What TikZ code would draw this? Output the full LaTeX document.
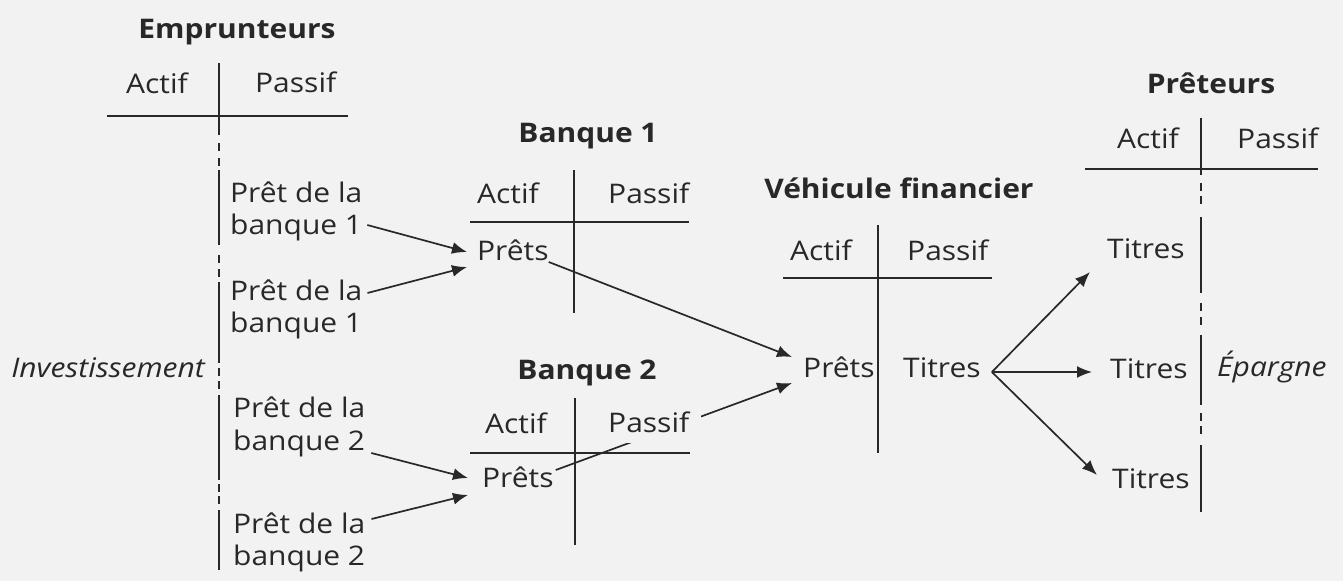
\documentclass[tikz,border=0pt]{standalone}
\usepackage{fontspec}
\setmainfont{Open Sans}[FakeStretch=1.11]
\usetikzlibrary{arrows.meta,calc,backgrounds}
\definecolor{bg}{RGB}{242,242,242}
\definecolor{ink}{RGB}{40,40,40}
\tikzset{
  txt/.style={font=\fontsize{27}{32}\selectfont, text=ink, inner sep=0pt, anchor=base west},
  txtit/.style={txt, font=\fontsize{27}{32}\selectfont\itshape},
  ttl/.style={txt, font=\fontsize{27}{32}\selectfont\bfseries, anchor=base},
  ln/.style={draw=ink, line width=1.9pt},
  dotln/.style={draw=ink, line width=2.2pt},
  arr/.style={draw=ink, line width=1.7pt, -{Latex[length=15pt,width=12pt]}},
}
\newcommand{\dotseg}[2]{\draw[dotln] (#1,#2-4) -- (#1,#2+4);}
\begin{document}
\begin{tikzpicture}[x=1pt,y=-1pt]
\begin{scope}[on background layer]
\fill[bg] (0,0) rectangle (1343,581);
\end{scope}
\useasboundingbox (0,0) rectangle (1343,581);

% ---------- Emprunteurs ----------
\node[ttl] (temp) at (237,38) {Emprunteurs};
\node[txt] (eact) at (126,93) {Actif};
\node[txt] (epas) at (255,92) {Passif};
\draw[ln] (107,116) -- (348,116);
\draw[ln] (219,63) -- (219,135);
\dotseg{219}{147}\dotseg{219}{162}
\draw[ln] (219,170) -- (219,245);
\dotseg{219}{259}\dotseg{219}{273}
\draw[ln] (219,282) -- (219,363);
\dotseg{219}{372}\dotseg{219}{385}
\draw[ln] (219,395) -- (219,480);
\dotseg{219}{488}\dotseg{219}{500}
\draw[ln] (219,510) -- (219,570);
\node[txt] (e1a) at (230,202) {Prêt de la};
\node[txt] (e1b) at (230,234) {banque 1};
\node[txt] (e2a) at (230,300) {Prêt de la};
\node[txt] (e2b) at (230,332) {banque 1};
\node[txt] (e3a) at (233,417) {Prêt de la};
\node[txt] (e3b) at (233,450) {banque 2};
\node[txt] (e4a) at (233,533) {Prêt de la};
\node[txt] (e4b) at (233,565) {banque 2};
\node[txtit, anchor=base east] (inv) at (205,377) {Investissement};

% ---------- Banque 1 ----------
\node[ttl] (tb1) at (588,142) {Banque 1};
\node[txt] (b1act) at (477,203) {Actif};
\node[txt] (b1pas) at (608,203) {Passif};
\draw[ln] (574,170) -- (574,313);
\draw[ln] (470,222) -- (689,222);
\node[txt] (b1p) at (477,260) {Prêts};

% ---------- Banque 2 ----------
\node[ttl] (tb2) at (587,379) {Banque 2};
\node[txt] (b2act) at (485,433) {Actif};
\node[txt, fill=bg, inner xsep=12pt, inner ysep=11pt] (b2pas) at (596,432) {Passif};
\draw[ln] (575,398) -- (575,545);
\draw[ln] (470,453) -- (690,453);
\node[txt] (b2p) at (482,487) {Prêts};

% ---------- Vehicule financier ----------
\node[ttl] (tvf) at (899,198) {Véhicule financier};
\node[txt] (vact) at (790,260) {Actif};
\node[txt] (vpas) at (907,260) {Passif};
\draw[ln] (878,225) -- (878,453);
\draw[ln] (783,278) -- (992,278);
\node[txt] (vp) at (803,377) {Prêts};
\node[txt] (vt) at (903,377) {Titres};

% ---------- Preteurs ----------
\node[ttl] (tpr) at (1211,93) {Prêteurs};
\node[txt] (pact) at (1117,148) {Actif};
\node[txt] (ppas) at (1237,148) {Passif};
\draw[ln] (1085,169) -- (1318,169);
\draw[ln] (1201,118) -- (1201,175);
\dotseg{1201}{187}\dotseg{1201}{200}
\draw[ln] (1201,217) -- (1201,293);
\dotseg{1201}{307}\dotseg{1201}{321}
\draw[ln] (1201,335) -- (1201,405);
\dotseg{1201}{417}\dotseg{1201}{430}
\draw[ln] (1201,445) -- (1201,512);
\node[txt] (pt1) at (1107,258) {Titres};
\node[txt] (pt2) at (1110,378) {Titres};
\node[txt] (pt3) at (1112,488) {Titres};
\node[txtit] (eparg) at (1217,376) {Épargne};

% ---------- connectors ----------
\begin{scope}[on background layer]
\draw[arr] ($(e1b.base east)+(5,-9)$) -- ($(b1p.base west)+(-10,-8)$);
\draw[arr] ($(e2a.base east)+(5,-7)$) -- ($(b1p.base west)+(-10,7)$);
\draw[arr] ($(e3b.base east)+(6,3)$) -- ($(b2p.base west)+(-14,-9)$);
\draw[arr] ($(e4a.base east)+(6,-14)$) -- ($(b2p.base west)+(-14,8)$);
\draw[arr] ($(b1p.base east)+(0,2)$) -- ($(vp.base west)+(-11,-20)$);
\draw[arr] ($(b2p.base east)+(2,-17)$) -- ($(vp.base west)+(-11,6)$);
\coordinate (fan) at ($(vt.base east)+(11,-5)$);
\draw[arr] (fan) -- ($(pt1.base west)+(-17,14)$);
\draw[arr] (fan) -- ($(pt2.base west)+(-18,-6)$);
\draw[arr] (fan) -- ($(pt3.base west)+(-15,-13)$);
\end{scope}
\end{tikzpicture}
\end{document}
